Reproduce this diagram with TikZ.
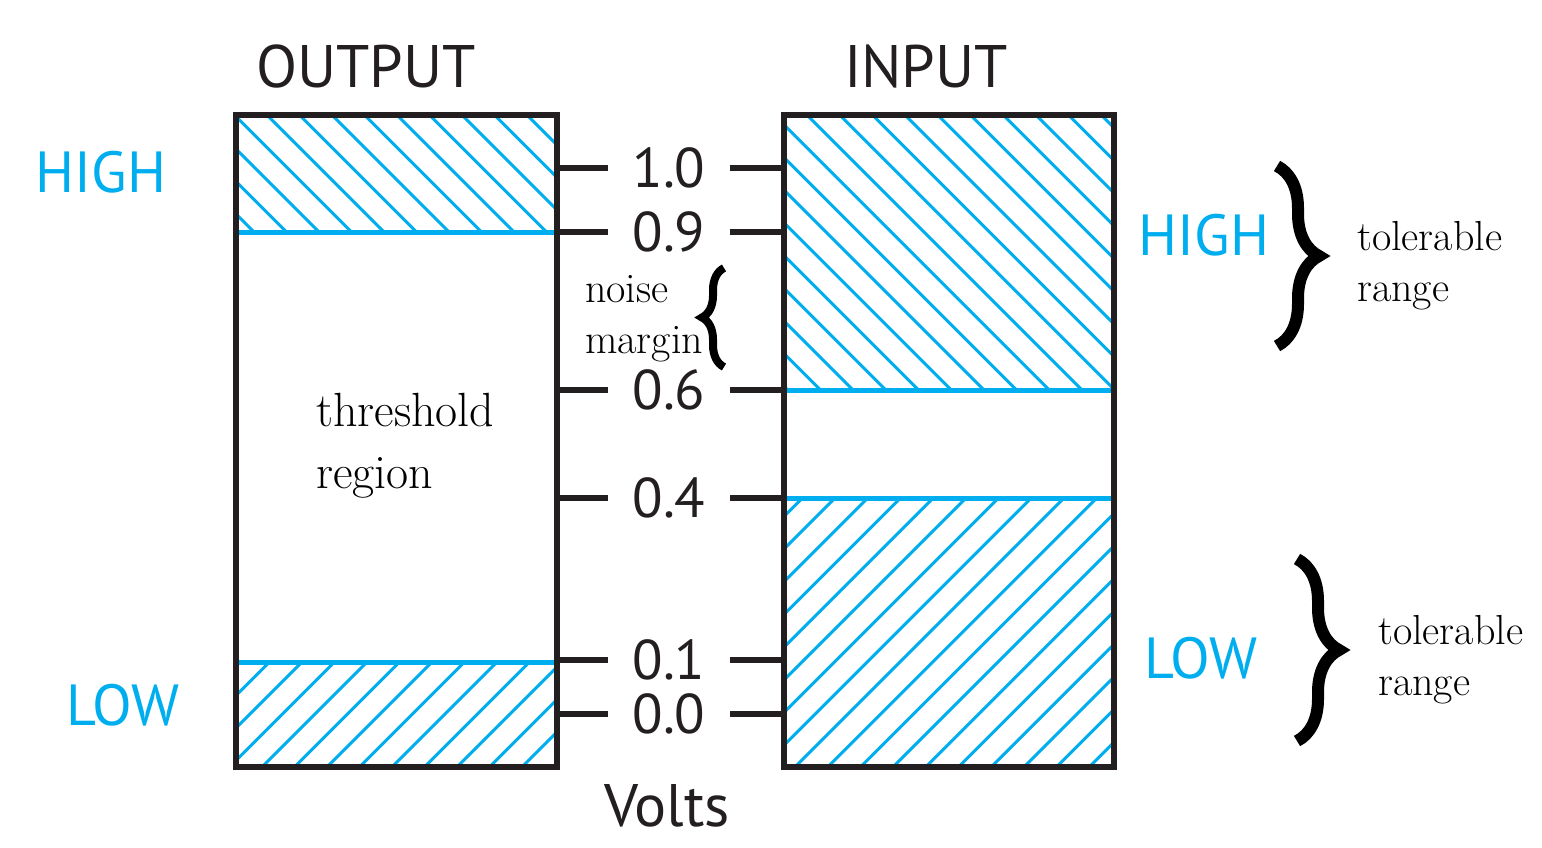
\documentclass[tikz,border=0pt]{standalone}
\usepackage{fontspec}
\setsansfont{PT Sans}
\usetikzlibrary{decorations.pathreplacing}
\definecolor{hcyan}{HTML}{00AEEF}
\definecolor{ink}{HTML}{231F20}
\begin{document}
\begin{tikzpicture}[x=1pt,y=-1pt,
  frame/.style={draw=ink, line width=6pt, inner sep=0pt, outer sep=0pt},
  hatch/.style={draw=hcyan, line width=3pt},
  divider/.style={draw=hcyan, line width=5pt},
  tick/.style={draw=ink, line width=6pt},
  title/.style={font=\sffamily\fontsize{60}{60}\selectfont, text=ink, inner sep=0pt},
  volt/.style={font=\sffamily\fontsize{56}{56}\selectfont, text=ink, minimum width=122pt, inner sep=0pt},
  level/.style={font=\sffamily\fontsize{58}{58}\selectfont, text=hcyan, inner sep=0pt},
  note/.style={font=\fontsize{42}{51}\selectfont, align=left, inner sep=0pt, anchor=west},
  bignote/.style={font=\fontsize{48}{62}\selectfont, align=left, inner sep=0pt, anchor=west},
  bracestyle/.style={draw=black, line width=12pt, decorate, decoration={brace, amplitude=#1}}]
\useasboundingbox (0,0) rectangle (1542,848);
% hatching
\begin{scope}
\clip (236,115) rectangle (557,232);
\foreach \k in {-5,...,10} \draw[hatch] (267+32.5*\k,115) -- ++(200,200);
\end{scope}
\begin{scope}
\clip (784,115) rectangle (1114,390);
\foreach \k in {-10,...,11} \draw[hatch] (807+32.7*\k,115) -- ++(300,300);
\end{scope}
\begin{scope}
\clip (236,662) rectangle (557,767);
\foreach \k in {-5,...,10} \draw[hatch] (262+32.5*\k,767) -- ++(200,-200);
\end{scope}
\begin{scope}
\clip (784,498) rectangle (1114,767);
\foreach \k in {-10,...,11} \draw[hatch] (795+32.7*\k,767) -- ++(300,-300);
\end{scope}
\draw[divider] (236,232) -- (557,232);
\draw[divider] (236,662) -- (557,662);
\draw[divider] (784,390) -- (1114,390);
\draw[divider] (784,498) -- (1114,498);
% boxes
\node[frame, minimum width=321pt, minimum height=652pt] (outbox) at (396.5,441) {};
\node[frame, minimum width=330pt, minimum height=652pt] (inbox) at (949,441) {};
% titles
\node[title] (tout) at (366,67) {OUTPUT};
\node[title] (tin) at (926,67) {INPUT};
\node[title] (tv) at (667,806) {Volts};
% volt scale
\foreach \v/\y/\nm in {1.0/168/a,0.9/232/b,0.6/390/c,0.4/498/d,0.1/660/e,0.0/714/f}{
  \node[volt] (n\nm) at (669,\y) {\vphantom{0}\smash{\v}};
  \draw[tick] (outbox.east |- n\nm) -- (n\nm.west);
  \draw[tick] (n\nm.east) -- (inbox.west |- n\nm);
}
% level labels
\node[level] (hl) at (101,172) {HIGH};
\node[level] (ll) at (123,705) {LOW};
\node[level] (hr) at (1204,235) {HIGH};
\node[level] (lr) at (1201,658) {LOW};
% notes
\node[bignote] (thr) at (316,446) {threshold\\region};
\node[note] (nm) at (585,319) {noise\\margin};
\node[note] (tr1) at (1357,266) {tolerable\\range};
\node[note] (tr2) at (1378,660) {tolerable\\range};
% braces
\coordinate (b1t) at (1277,166); \coordinate (b1b) at (1277,346);
\coordinate (b2t) at (1297,559); \coordinate (b2b) at (1297,741);
\coordinate (b3t) at (724,268); \coordinate (b3b) at (724,367);
\draw[bracestyle=42pt] (b1t) -- (b1b);
\draw[bracestyle=42pt] (b2t) -- (b2b);
\draw[bracestyle=22pt, line width=8pt] (b3b) -- (b3t);
\end{tikzpicture}
\end{document}
